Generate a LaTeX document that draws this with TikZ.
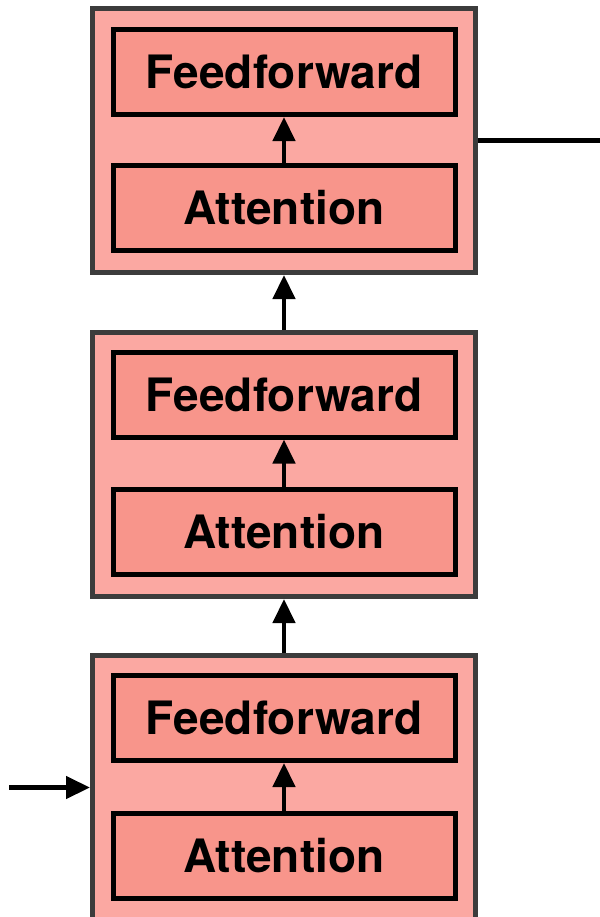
\documentclass[tikz,border=0pt]{standalone}
\usepackage{fontspec}
\setmainfont{TeX Gyre Heros}
\usetikzlibrary{arrows.meta}
\definecolor{outerfill}{HTML}{FBA8A2}
\definecolor{innerfill}{HTML}{F8958B}
\definecolor{outerline}{HTML}{3C3C3C}
\begin{document}
\begin{tikzpicture}[x=0.5pt,y=-0.5pt,
  block/.style={draw=outerline, fill=outerfill, line width=2.5pt, minimum width=191.5pt, minimum height=132pt, inner sep=0pt},
  layer/.style={draw=black, fill=innerfill, line width=2.5pt, minimum width=171pt, minimum height=42.5pt, inner sep=0pt, font=\bfseries\fontsize{23}{27}\selectfont},
  flow/.style={line width=2.2pt, -{Triangle[width=11pt,length=12pt]}},
  plain/.style={line width=2.2pt}]
\useasboundingbox (0,0) rectangle (600,917);
\clip (0,0) rectangle (600,917);
% blocks
\node[block] (b1) at (284,140.5) {};
\node[block] (b2) at (284,464.5) {};
\node[block] (b3) at (284,787.5) {};
% layers
\node[layer] (f1) at (284,72) {Feedforward};
\node[layer] (a1) at (284,208) {Attention};
\node[layer] (f2) at (284,394.5) {Feedforward};
\node[layer] (a2) at (284,532) {Attention};
\node[layer] (f3) at (284,718) {Feedforward};
\node[layer] (a3) at (284,855.5) {Attention};
% internal arrows
\draw[flow] (a1) -- (f1);
\draw[flow] (a2) -- (f2);
\draw[flow] (a3) -- (f3);
% between blocks
\draw[flow] (b2) -- (b1);
\draw[flow] (b3) -- (b2);
% input and output
\coordinate (in) at (9,787.5);
\coordinate (out) at (600,140.5);
\draw[flow] (in) -- (b3.west);
\draw[plain] (b1.east) -- (out);
\end{tikzpicture}
\end{document}
